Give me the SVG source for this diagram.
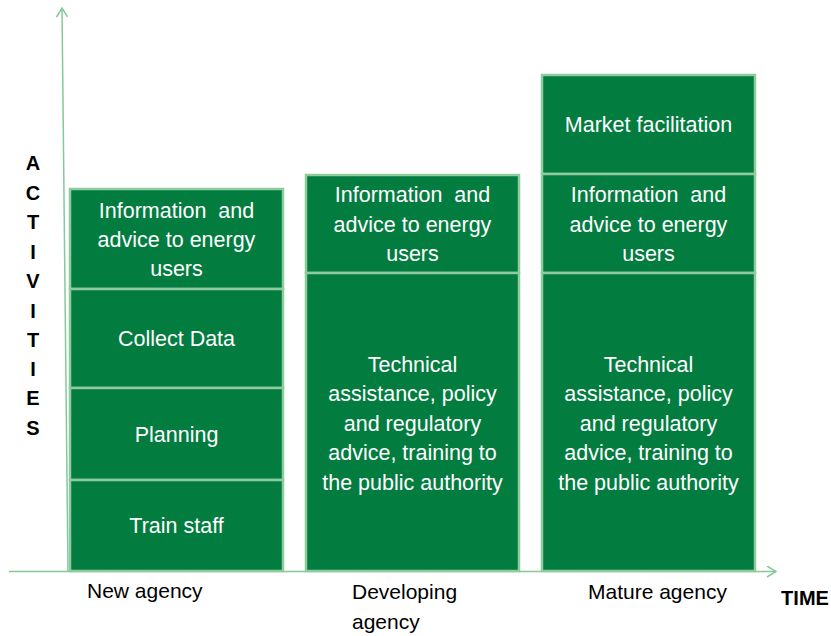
<svg xmlns="http://www.w3.org/2000/svg" width="831" height="636" viewBox="0 0 831 636">
  <style>
    .cell { fill: #037c3f; stroke: #8fcb9f; stroke-width: 2.5; }
    .in { font-family: "Liberation Sans", Arial, sans-serif; font-size: 21.5px; fill: #ffffff; text-anchor: middle; white-space: pre; }
    .lbl { font-family: "Liberation Sans", Arial, sans-serif; font-size: 21px; fill: #000000; }
    .axt { font-family: "Liberation Sans", Arial, sans-serif; font-size: 20px; font-weight: bold; fill: #000000; text-anchor: middle; }
    .axis { stroke: #84c99c; stroke-width: 1.5; fill: none; }
  </style>
  <defs>
    <marker id="chev" viewBox="0 0 12 12" refX="11" refY="6" markerWidth="12" markerHeight="12" markerUnits="userSpaceOnUse" orient="auto">
      <path d="M2,0.5 L11,6 L2,11.5" fill="none" stroke="#84c99c" stroke-width="1.5"/>
    </marker>
  </defs>

  <g id="axes">
    <line class="axis" x1="68" y1="572" x2="62" y2="8" marker-end="url(#chev)"/>
    <line class="axis" x1="9" y1="571.5" x2="776" y2="571.5" marker-end="url(#chev)"/>
  </g>

  <g id="axis-y-title">
    <text class="axt" x="33" y="170">A</text>
    <text class="axt" x="33" y="200">C</text>
    <text class="axt" x="33" y="229">T</text>
    <text class="axt" x="33" y="259">I</text>
    <text class="axt" x="33" y="288">V</text>
    <text class="axt" x="33" y="318">I</text>
    <text class="axt" x="33" y="347">T</text>
    <text class="axt" x="33" y="376">I</text>
    <text class="axt" x="33" y="405">E</text>
    <text class="axt" x="33" y="435">S</text>
  </g>
  <g id="axis-x-title">
    <text class="axt" x="805" y="605" font-size="21">TIME</text>
  </g>

  <!-- New agency column -->
  <g id="new-info">
    <rect class="cell" x="70" y="189" width="213" height="100"/>
    <text class="in" x="176.5" y="218">Information  and</text>
    <text class="in" x="176.5" y="247">advice to energy</text>
    <text class="in" x="176.5" y="276">users</text>
  </g>
  <g id="new-data">
    <rect class="cell" x="70" y="289" width="213" height="99"/>
    <text class="in" x="176.5" y="346">Collect Data</text>
  </g>
  <g id="new-planning">
    <rect class="cell" x="70" y="388" width="213" height="92"/>
    <text class="in" x="176.5" y="442">Planning</text>
  </g>
  <g id="new-train">
    <rect class="cell" x="70" y="480" width="213" height="91"/>
    <text class="in" x="176.5" y="533">Train staff</text>
  </g>

  <!-- Developing agency column -->
  <g id="dev-info">
    <rect class="cell" x="306" y="175" width="213" height="98"/>
    <text class="in" x="412.5" y="202">Information  and</text>
    <text class="in" x="412.5" y="232">advice to energy</text>
    <text class="in" x="412.5" y="261">users</text>
  </g>
  <g id="dev-tech">
    <rect class="cell" x="306" y="273" width="213" height="298"/>
    <text class="in" x="412.5" y="372">Technical</text>
    <text class="in" x="412.5" y="401">assistance, policy</text>
    <text class="in" x="412.5" y="431">and regulatory</text>
    <text class="in" x="412.5" y="460">advice, training to</text>
    <text class="in" x="412.5" y="490">the public authority</text>
  </g>

  <!-- Mature agency column -->
  <g id="mat-market">
    <rect class="cell" x="542" y="75" width="213" height="99"/>
    <text class="in" x="648.5" y="132">Market facilitation</text>
  </g>
  <g id="mat-info">
    <rect class="cell" x="542" y="174" width="213" height="99"/>
    <text class="in" x="648.5" y="202">Information  and</text>
    <text class="in" x="648.5" y="232">advice to energy</text>
    <text class="in" x="648.5" y="261">users</text>
  </g>
  <g id="mat-tech">
    <rect class="cell" x="542" y="273" width="213" height="298"/>
    <text class="in" x="648.5" y="372">Technical</text>
    <text class="in" x="648.5" y="401">assistance, policy</text>
    <text class="in" x="648.5" y="431">and regulatory</text>
    <text class="in" x="648.5" y="460">advice, training to</text>
    <text class="in" x="648.5" y="490">the public authority</text>
  </g>

  <g id="stage-labels">
    <text class="lbl" x="87" y="598">New agency</text>
    <text class="lbl" x="352" y="599">Developing</text>
    <text class="lbl" x="352" y="629">agency</text>
    <text class="lbl" x="588" y="599">Mature agency</text>
  </g>
</svg>
